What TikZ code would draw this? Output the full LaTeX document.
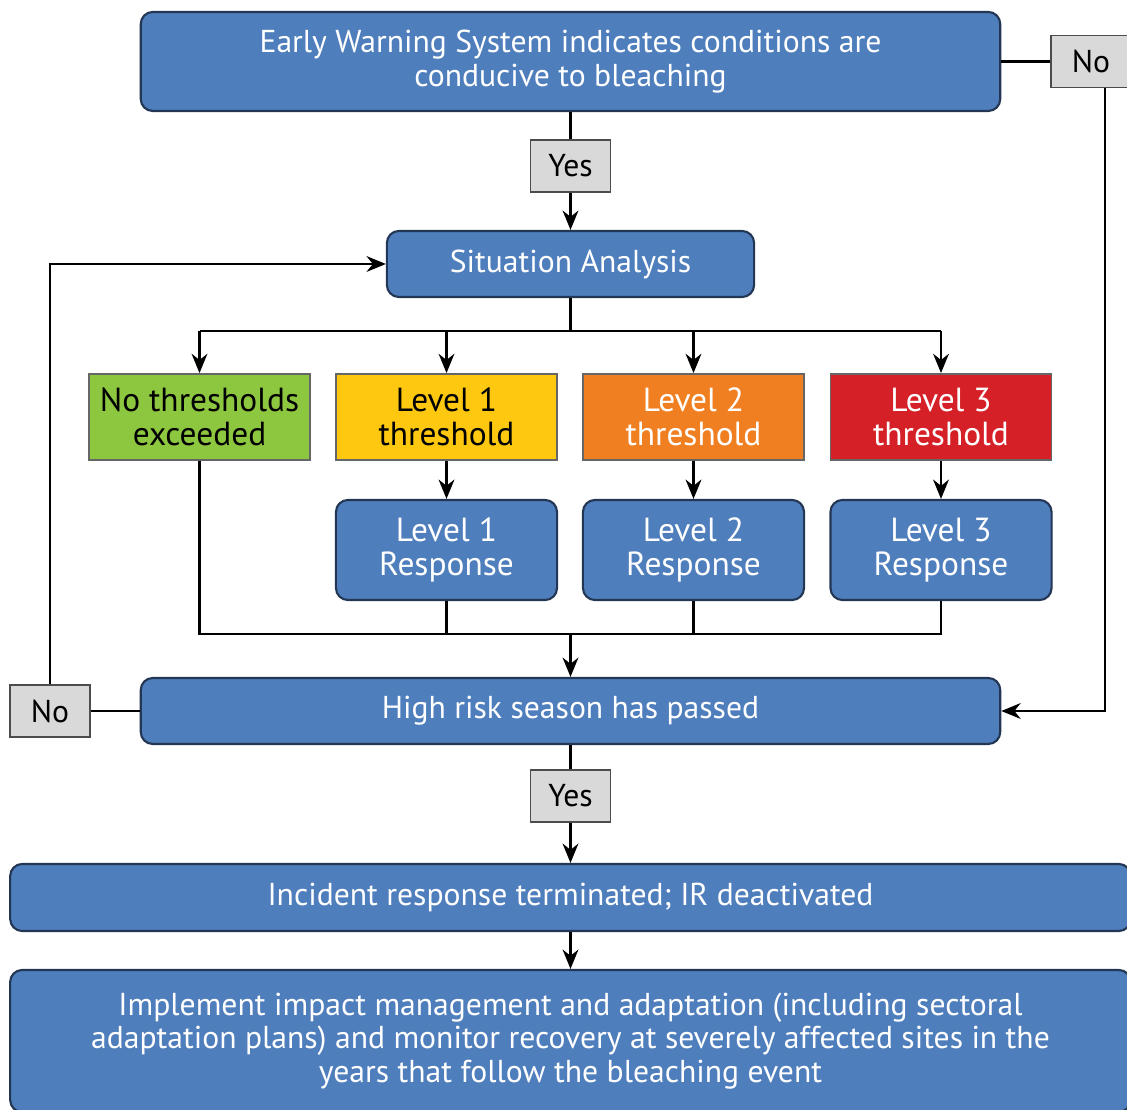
\documentclass[tikz,border=0pt]{standalone}
\usepackage{fontspec}
\setmainfont{PT Sans}
\usetikzlibrary{positioning,arrows.meta}

\definecolor{boxBlue}{RGB}{79,126,189}
\definecolor{boxEdge}{RGB}{35,55,85}
\definecolor{noGreen}{RGB}{141,198,63}
\definecolor{lvlYellow}{RGB}{253,200,15}
\definecolor{lvlOrange}{RGB}{240,127,34}
\definecolor{lvlRed}{RGB}{214,32,40}
\definecolor{answerGray}{RGB}{217,217,217}

\tikzset{
  bluebox/.style={draw=boxEdge, line width=0.6pt, fill=boxBlue, rounded corners=0.12cm,
    text=white, align=center, inner sep=0pt, font=\fontsize{9}{9.6}\selectfont},
  levelbox/.style={draw=black!60, line width=0.5pt, inner sep=0pt, minimum width=2.21cm,
    minimum height=0.86cm, align=center, font=\fontsize{9.5}{9.6}\selectfont},
  answer/.style={draw=black!70, line width=0.5pt, fill=answerGray, minimum width=0.8cm,
    minimum height=0.52cm, inner sep=0pt, font=\fontsize{9}{9.6}\selectfont},
  link/.style={line width=0.6pt},
  arr/.style={link, -{Stealth[length=5.5pt,width=4.5pt]}}
}

\begin{document}
\begin{tikzpicture}[x=0.01cm,y=-0.01cm]
\clip (0,0) rectangle (1127,1110);
% first question
\node[bluebox, minimum width=8.59cm, minimum height=0.99cm] (ews) at (570.5,61.5)
  {Early Warning System indicates conditions are\\conducive to bleaching};
\node[answer] (no1) at (1091,61.5) {No};
\node[answer] (yes1) at (570.5,166) {Yes};
\node[bluebox, minimum width=3.67cm, minimum height=0.66cm] (sa) at (570.5,264) {Situation Analysis};
% thresholds
\node[levelbox, fill=noGreen] (l0) at (199.5,417) {No thresholds\\exceeded};
\node[levelbox, fill=lvlYellow] (l1) at (446.5,417) {Level 1\\threshold};
\node[levelbox, fill=lvlOrange, text=white] (l2) at (693.5,417) {Level 2\\threshold};
\node[levelbox, fill=lvlRed, text=white] (l3) at (941,417) {Level 3\\threshold};
% responses
\node[bluebox, minimum width=2.21cm, minimum height=1.0cm, font=\fontsize{9.5}{9.6}\selectfont] (r1) at (446.5,550) {Level 1\\Response};
\node[bluebox, minimum width=2.21cm, minimum height=1.0cm, font=\fontsize{9.5}{9.6}\selectfont] (r2) at (693.5,550) {Level 2\\Response};
\node[bluebox, minimum width=2.21cm, minimum height=1.0cm, font=\fontsize{9.5}{9.6}\selectfont] (r3) at (941,550) {Level 3\\Response};
% second question
\node[bluebox, minimum width=8.59cm, minimum height=0.66cm] (hrs) at (570.5,711) {High risk season has passed};
\node[answer] (no2) at (50,711) {No};
\node[answer] (yes2) at (570.5,796) {Yes};
% end of the incident
\node[bluebox, minimum width=11.2cm, minimum height=0.67cm] (ir) at (570.5,897.5)
  {Incident response terminated; IR deactivated};
\node[bluebox, minimum width=11.2cm, minimum height=1.42cm] (impl) at (570.5,1041)
  {Implement impact management and adaptation (including sectoral\\adaptation plans) and monitor recovery at severely affected sites in the\\years that follow the bleaching event};

% connectors
\draw[link] (ews.south) -- (yes1.north);
\draw[arr] (yes1.south) -- (sa.north);
\draw[link] (ews.east) -- (no1.west);
\coordinate (no1foot) at ([xshift=0.14cm]no1.south);
\draw[arr] (no1foot) |- (hrs.east);
\draw[link] (sa.south) -- ++(0,33) coordinate (split);
\draw[link] (split -| l0) -- (split -| l3);
\foreach \n in {l0,l1,l2,l3} \draw[arr] (split -| \n) -- (\n.north);
\foreach \n in {1,2,3} \draw[arr] (l\n.south) -- (r\n.north);
\coordinate (merge) at (570.5,634);
\draw[link] (l0.south) -- (l0 |- merge) -- (r3 |- merge) -- (r3.south);
\draw[link] (r1.south) -- (r1 |- merge);
\draw[link] (r2.south) -- (r2 |- merge);
\draw[arr] (merge) -- (hrs.north);
\draw[link] (hrs.west) -- (no2.east);
\draw[arr] (no2.north) |- (sa.west);
\draw[link] (hrs.south) -- (yes2.north);
\draw[arr] (yes2.south) -- (ir.north);
\draw[arr] (ir.south) -- (impl.north);
\end{tikzpicture}
\end{document}
